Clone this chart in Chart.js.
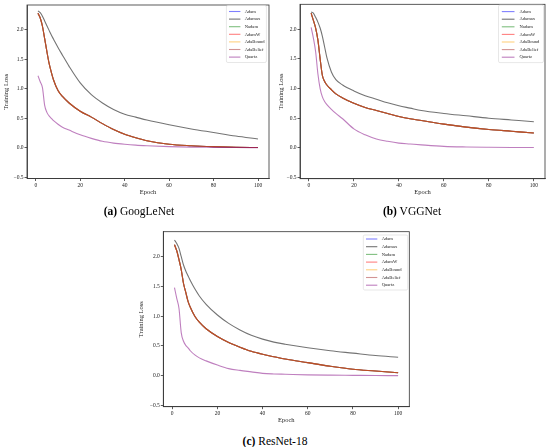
<!DOCTYPE html>
<html>
<head>
<meta charset="utf-8">
<script src="https://cdn.jsdelivr.net/npm/chart.js@4.4.1/dist/chart.umd.min.js"></script>
<style>
  body { margin: 0; background: #fff; width: 550px; height: 447px; position: relative; overflow: hidden; font-family: "Liberation Serif", serif; }
  .panel { position: absolute; }
  .cap { position: absolute; font-size: 11.5px; line-height: 12px; text-align: center; color: #000; white-space: nowrap; }
</style>
</head>
<body>
<div class="panel" style="left:0;top:0;width:275px;height:200px"><canvas id="chartA"></canvas></div>
<div class="panel" style="left:275px;top:0;width:275px;height:200px"><canvas id="chartB"></canvas></div>
<div class="panel" style="left:135px;top:215px;width:280px;height:213px"><canvas id="chartC"></canvas></div>
<div class="cap" style="left:39px;top:204.5px;width:200px"><b>(a)</b> GoogLeNet</div>
<div class="cap" style="left:312px;top:204.5px;width:200px"><b>(b)</b> VGGNet</div>
<div class="cap" style="left:175px;top:434.5px;width:200px"><b>(c)</b> ResNet-18</div>
<script>
// epochs
const epochs = [1, 2, 3, 4, 5, 6, 7, 8, 10, 12, 15, 20, 25, 30, 35, 40, 45, 50, 60, 70, 80, 90, 100];
const xTicks = [0, 20, 40, 60, 80, 100];
const yTicks = [-0.5, 0, 0.5, 1, 1.5, 2];
const optimizers = ['Adam', 'Adamax', 'Nadam', 'AdamW', 'AdaBound', 'AdaBelief', 'Quartz'];
const lineColors = ['rgba(0,0,255,0.5)', 'rgba(0,0,0,0.55)', 'rgba(0,128,0,0.5)', 'rgba(255,0,0,0.5)',
                    'rgba(255,165,0,0.5)', 'rgba(165,42,42,0.5)', 'rgba(128,0,128,0.5)'];

// GoogLeNet (Adam, Nadam, AdamW, AdaBound, AdaBelief lie on top of each other)
const googlenetAdamax = [2.32, 2.29, 2.23, 2.15, 2.07, 1.99, 1.91, 1.84, 1.70, 1.57, 1.38, 1.10, 0.90, 0.76, 0.65, 0.57, 0.52, 0.47, 0.39, 0.32, 0.26, 0.20, 0.15];
const googlenetAdamFamily = [2.28, 2.20, 2.06, 1.85, 1.63, 1.43, 1.28, 1.15, 0.97, 0.87, 0.76, 0.62, 0.52, 0.41, 0.31, 0.23, 0.17, 0.12, 0.06, 0.035, 0.02, 0.01, 0.005];
const googlenetQuartz = [1.22, 1.12, 1.02, 0.72, 0.60, 0.54, 0.50, 0.46, 0.40, 0.35, 0.30, 0.22, 0.16, 0.11, 0.08, 0.06, 0.045, 0.035, 0.02, 0.012, 0.008, 0.005, 0.003];

// VGGNet
const vggAdamax = [2.29, 2.27, 2.20, 2.12, 2.02, 1.88, 1.70, 1.52, 1.28, 1.15, 1.06, 0.96, 0.88, 0.82, 0.76, 0.71, 0.67, 0.63, 0.58, 0.54, 0.50, 0.47, 0.44];
const vggAdamFamily = [2.27, 2.15, 2.02, 1.82, 1.50, 1.22, 1.12, 1.06, 0.98, 0.91, 0.84, 0.75, 0.68, 0.63, 0.58, 0.53, 0.49, 0.46, 0.40, 0.35, 0.31, 0.28, 0.25];
const vggQuartz = [2.03, 1.85, 1.62, 1.25, 1.00, 0.86, 0.78, 0.73, 0.65, 0.58, 0.49, 0.32, 0.22, 0.15, 0.11, 0.08, 0.065, 0.05, 0.025, 0.015, 0.01, 0.007, 0.005];

// ResNet-18
const resnetAdamax = [2.28, 2.22, 2.14, 2.00, 1.86, 1.76, 1.68, 1.60, 1.46, 1.34, 1.20, 1.02, 0.88, 0.77, 0.68, 0.615, 0.565, 0.53, 0.47, 0.42, 0.38, 0.34, 0.31];
const resnetAdamFamily = [2.20, 2.10, 1.95, 1.78, 1.55, 1.40, 1.25, 1.15, 1.00, 0.90, 0.79, 0.66, 0.56, 0.48, 0.41, 0.36, 0.32, 0.28, 0.22, 0.16, 0.11, 0.08, 0.05];
const resnetQuartz = [1.48, 1.30, 1.13, 0.72, 0.58, 0.51, 0.47, 0.42, 0.35, 0.30, 0.25, 0.18, 0.12, 0.09, 0.065, 0.04, 0.03, 0.025, 0.015, 0.01, 0.007, 0.004, 0.002];

const tickFont = { family: 'Liberation Serif', size: 5.5 };
const titleFont = { family: 'Liberation Serif', size: 6.5 };
const axisColor = '#333';

// box round the plot area, like matplotlib spines
const framePlugin = {
    id: 'frame',
    afterDraw(chart) {
        const { ctx, chartArea: a } = chart;
        ctx.save();
        ctx.strokeStyle = axisColor;
        ctx.lineWidth = 0.8;
        ctx.strokeRect(a.left, a.top, a.right - a.left, a.bottom - a.top);
        ctx.restore();
    }
};

// legend in the upper right corner of the plot area
function cornerLegend(cfg) {
    return {
        id: 'cornerLegend',
        afterDraw(chart) {
            const { ctx, chartArea: a } = chart;
            const left = a.right - cfg.inset - cfg.w;
            const top = a.top + cfg.top;
            ctx.save();
            ctx.fillStyle = 'rgba(255,255,255,0.8)';
            ctx.strokeStyle = '#d6d6d6';
            ctx.lineWidth = 0.6;
            ctx.beginPath();
            ctx.roundRect(left, top, cfg.w, cfg.h, 1.5);
            ctx.fill();
            ctx.stroke();
            ctx.font = '4.6px "Liberation Serif"';
            ctx.textBaseline = 'middle';
            chart.data.datasets.forEach((ds, i) => {
                const y = top + cfg.first + i * cfg.row;
                ctx.strokeStyle = ds.borderColor;
                ctx.lineWidth = 1.1;
                ctx.beginPath();
                ctx.moveTo(left + cfg.lineFrom, y);
                ctx.lineTo(left + cfg.lineTo, y);
                ctx.stroke();
                ctx.fillStyle = '#222';
                ctx.fillText(ds.label, left + cfg.text, y);
            });
            ctx.restore();
        }
    };
}

function makePanel(id, adamFamily, adamax, quartz, L, legendCfg) {
    const series = [adamFamily, adamax, adamFamily, adamFamily, adamFamily, adamFamily, quartz];
    const datasets = optimizers.map((name, i) => ({
        label: name,
        data: epochs.map((e, k) => ({ x: e, y: series[i][k] })),
        borderColor: lineColors[i],
        borderWidth: 1.1,
        pointRadius: 0,
        fill: false,
        cubicInterpolationMode: 'monotone',
        order: optimizers.length - 1 - i
    }));
    const grid = { drawOnChartArea: false, drawTicks: true, tickLength: 2.5, color: axisColor, lineWidth: 0.8 };
    const border = { color: axisColor, width: 0.8 };
    return new Chart(document.getElementById(id).getContext('2d'), {
        type: 'line',
        data: { datasets },
        options: {
            responsive: true,
            maintainAspectRatio: false,
            animation: false,
            events: [],
            layout: { padding: { top: L.top, right: L.right, left: 0, bottom: 0 } },
            plugins: { legend: { display: false }, tooltip: { enabled: false } },
            scales: {
                x: {
                    type: 'linear',
                    min: -3.95,
                    max: 104.95,
                    afterBuildTicks: s => { s.ticks = xTicks.map(v => ({ value: v })); },
                    afterFit: s => { s.height = L.bottom; },
                    ticks: { font: tickFont, color: '#222', padding: 1, maxRotation: 0 },
                    grid, border,
                    title: { display: true, text: 'Epoch', font: titleFont, color: '#222', padding: { top: 0, bottom: 4 } }
                },
                y: {
                    type: 'linear',
                    min: L.ymin,
                    max: 2.42,
                    afterBuildTicks: s => { s.ticks = yTicks.map(v => ({ value: v })); },
                    afterFit: s => { s.width = L.left; },
                    ticks: { font: tickFont, color: '#222', padding: 1, callback: v => v.toFixed(1).replace('-', '\u2212') },
                    grid, border,
                    title: { display: true, text: 'Training Loss', font: titleFont, color: '#222', padding: { top: 2, bottom: 0 } }
                }
            }
        },
        plugins: [framePlugin, cornerLegend(legendCfg)]
    });
}

makePanel('chartA', googlenetAdamFamily, googlenetAdamax, googlenetQuartz,
    { left: 27, top: 5, right: 6, bottom: 21.5, ymin: -0.52 },
    { w: 40, h: 57, inset: 2.6, top: 0.5, first: 6, row: 7.6, lineFrom: 2.6, lineTo: 14, text: 18.3 });
makePanel('chartB', vggAdamFamily, vggAdamax, vggQuartz,
    { left: 25, top: 4, right: 5, bottom: 21.3, ymin: -0.52 },
    { w: 45, h: 57.6, inset: 1.5, top: 0.7, first: 6.6, row: 7.6, lineFrom: 3.3, lineTo: 16, text: 21 });
makePanel('chartC', resnetAdamFamily, resnetAdamax, resnetQuartz,
    { left: 28.3, top: 16.7, right: 5.7, bottom: 21.3, ymin: -0.52 },
    { w: 44.4, h: 55, inset: 1.6, top: 3.3, first: 4, row: 7.7, lineFrom: 2.7, lineTo: 14, text: 18.4 });
</script>
</body>
</html>
